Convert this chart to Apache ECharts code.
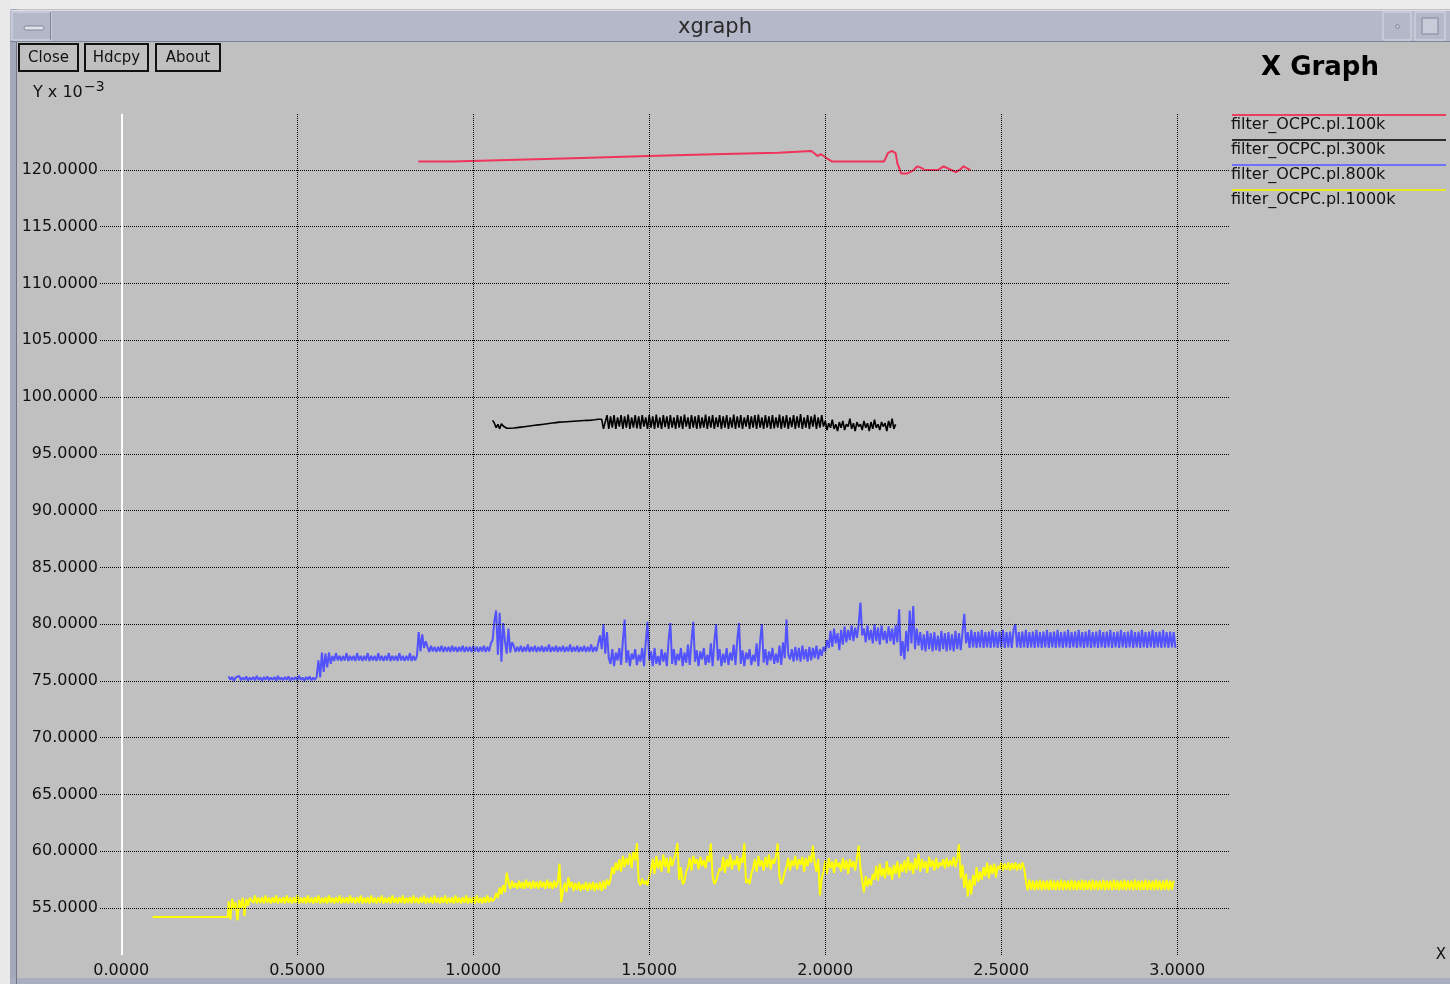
<!DOCTYPE html>
<html>
<head>
<meta charset="utf-8">
<script src="https://cdn.jsdelivr.net/npm/echarts@6/dist/echarts.min.js"></script>
<style>
html,body{margin:0;padding:0;background:#c0c0c0;}
#chart{width:1450px;height:984px;}
</style>
</head>
<body>
<div id="chart"></div>
<script>
// ---------------- data ----------------
const seriesNames = ['filter_OCPC.pl.100k', 'filter_OCPC.pl.300k', 'filter_OCPC.pl.800k', 'filter_OCPC.pl.1000k'];
const xTicks = [0, 0.5, 1.0, 1.5, 2.0, 2.5, 3.0];
const yTicks = [55, 60, 65, 70, 75, 80, 85, 90, 95, 100, 105, 110, 115, 120];
const sampleStep = 0.005;

const redPoints = [
  [0.844,120.74],[0.94,120.74],[0.94,120.9],[1.125,120.9],[1.125,121.06],[1.309,121.06],
  [1.309,121.23],[1.498,121.23],[1.498,121.39],[1.682,121.39],[1.682,121.52],[1.867,121.52],
  [1.867,121.68],[1.96,121.68],[1.97,121.45],[1.978,121.23],[1.987,121.39],[1.996,121.23],
  [2.007,120.97],[2.02,120.74],[2.167,120.74],[2.178,121.48],[2.189,121.68],[2.2,121.48],
  [2.205,120.58],[2.216,119.68],[2.232,119.68],[2.249,119.94],[2.262,120.32],[2.273,120.19],
  [2.282,120.0],[2.32,120.0],[2.336,120.32],[2.347,120.16],[2.358,120.0],[2.371,119.81],
  [2.382,120.0],[2.393,120.32],[2.404,120.13],[2.412,120.0]
];

const blackStart = 1.055;
const blackValues = [
  97.95,97.7,97.3,97.6,97.2,97.65,97.45,97.55,97.25,97.25,
  97.25,97.25,97.27,97.29,97.31,97.33,97.35,97.37,97.39,97.41,97.43,97.45,
  97.47,97.49,97.51,97.53,97.55,97.57,97.59,97.61,97.63,
  97.65,97.67,97.69,97.71,97.73,97.75,97.77,97.79,
  97.8,97.81,97.82,97.83,97.84,97.85,97.86,97.87,97.88,97.89,
  97.9,97.91,97.92,97.93,97.94,97.95,97.96,97.97,
  97.98,98.0,98.02,98.04,98.04,98.04,
  97.2,97.3,98.4,97.2,98.3,97.3,98.4,97.2,98.2,97.4,
  98.4,97.2,98.3,97.3,98.45,97.2,98.2,97.3,98.4,97.25,
  98.3,97.2,98.4,97.4,98.2,97.2,98.4,97.3,98.3,97.2,
  98.45,97.3,98.2,97.2,98.4,97.35,98.3,97.2,98.4,97.3,
  98.2,97.2,98.4,97.3,98.3,97.2,98.45,97.4,98.2,97.2,
  98.4,97.3,98.3,97.2,98.4,97.25,98.2,97.3,98.45,97.2,
  98.3,97.3,98.4,97.2,98.2,97.35,98.4,97.2,98.3,97.3,
  98.4,97.2,98.2,97.3,98.45,97.2,98.3,97.3,98.4,97.2,
  98.2,97.4,98.4,97.2,98.3,97.3,98.4,97.2,98.45,97.3,
  98.2,97.2,98.4,97.3,98.3,97.2,98.4,97.25,98.2,97.3,
  98.45,97.2,98.3,97.3,98.4,97.2,98.2,97.35,98.4,97.2,
  98.3,97.3,98.5,97.2,98.2,97.3,98.4,97.2,98.3,97.4,
  98.45,97.2,98.2,97.3,98.4,
  97.4,97.9,97.1,97.7,97.3,98.0,97.2,97.6,97.0,97.8,
  97.3,97.9,97.1,97.6,97.4,98.1,97.2,97.7,97.0,97.8,
  97.4,97.6,97.1,97.9,97.3,97.7,97.0,97.8,97.2,98.0,
  97.3,97.6,97.1,97.8,97.4,97.7,97.0,97.9,97.3,98.1,
  97.2,97.6
];

const blueStart = 0.305;
const blueValues = [
  75.4,75.1,75.35,75.0,75.3,75.15,75.45,75.05,75.3,75.1,
  75.4,75.0,75.3,75.1,75.35,75.05,75.45,75.1,75.3,75.0,
  75.35,75.1,75.4,75.05,75.3,75.1,75.35,75.0,75.45,75.1,
  75.3,75.05,75.35,75.1,75.4,75.0,75.3,75.1,75.35,75.05,
  75.45,75.1,75.3,75.0,75.35,75.1,75.4,75.05,75.3,75.1,
  75.35,
  76.8,75.3,77.5,75.8,77.4,76.2,77.5,76.5,
  77.2,76.75,77.45,76.8,77.2,76.75,77.2,76.8,77.45,76.75,
  77.2,76.8,77.2,76.75,77.45,76.8,77.2,76.75,77.2,76.8,
  77.45,76.75,77.2,76.8,77.2,76.75,77.45,76.8,77.2,76.75,
  77.2,76.8,77.45,76.75,77.2,76.8,77.2,76.75,77.45,76.8,
  77.2,76.75,77.2,76.8,77.45,76.75,77.2,76.8,77.2,
  79.3,77.6,79.1,77.9,78.5,
  78.0,77.55,78.1,77.6,78.0,77.55,78.0,77.6,78.1,77.55,
  78.0,77.6,78.0,77.55,78.1,77.6,78.0,77.55,78.0,77.6,
  78.1,77.55,78.0,77.6,78.0,77.55,78.1,77.6,78.0,77.55,
  78.0,77.6,78.1,77.55,78.0,77.6,78.3,
  78.6,80.3,81.2,77.3,81.0,76.7,80.1,78.5,77.4,79.6,77.5,78.4,
  78.1,77.55,78.0,77.6,78.1,77.55,78.0,77.6,78.2,77.55,
  78.0,77.6,78.1,77.55,78.0,77.6,78.1,77.55,78.0,77.6,
  78.2,77.55,78.0,77.6,78.1,77.55,78.0,77.6,78.1,77.55,
  78.0,77.6,78.2,77.55,78.0,77.6,78.1,77.55,78.0,77.6,
  78.1,77.55,78.0,77.6,78.2,77.55,78.0,77.6,
  78.3,79.0,77.8,80.0,77.4,79.3,77.0,
  76.5,77.8,76.3,77.5,76.8,77.9,76.4,78.5,80.4,76.6,
  77.7,76.3,77.4,76.9,77.8,76.4,77.3,76.7,77.9,76.3,
  78.4,80.2,76.8,77.6,76.3,77.9,76.5,77.2,76.4,77.8,
  76.7,77.5,76.3,78.6,80.1,76.5,77.8,76.4,77.4,76.8,
  77.9,76.3,77.5,76.6,78.2,76.4,78.5,80.2,76.7,77.7,
  76.3,77.6,76.9,77.9,76.4,77.3,76.6,78.3,76.3,78.5,
  80.0,76.8,77.8,76.3,77.4,76.6,77.9,76.4,77.5,76.8,
  78.2,76.4,78.6,80.1,76.5,77.7,76.3,77.5,76.9,77.8,
  76.4,77.3,76.7,78.3,76.3,78.5,80.0,76.6,77.8,76.4,
  77.6,76.8,77.9,76.5,77.4,76.6,78.1,76.4,78.4,77.0,
  80.4,77.3,76.9,77.8,76.7,78.0,76.8,77.9,76.7,78.1,
  76.9,77.8,76.7,78.0,76.8,77.9,77.0,78.1,76.9,77.8,
  77.2,78.0,
  77.6,78.6,77.9,79.4,78.0,79.6,78.3,79.2,77.7,79.5,
  78.2,79.8,78.4,79.5,78.6,79.9,78.5,79.7,78.8,80.0,
  81.9,79.0,
  79.6,78.4,79.9,78.6,79.5,78.3,80.0,78.5,79.7,78.2,
  79.9,78.6,79.4,78.3,79.8,78.5,79.6,78.2,79.9,78.4,
  81.3,77.2,78.5,76.9,79.4,77.6,81.2,78.3,81.6,77.8,79.6,78.1,
  79.3,77.7,79.1,77.6,79.4,77.8,79.2,77.6,79.3,77.7,
  79.0,77.6,79.4,77.8,79.2,77.6,79.3,77.7,79.1,77.6,
  79.4,77.8,79.2,77.7,79.3,
  80.9,78.3,
  79.3,77.9,79.5,77.95,79.3,77.9,79.35,77.95,79.5,77.9,
  79.3,77.95,79.35,77.9,79.5,77.95,79.3,77.9,79.35,77.95,
  79.5,77.9,79.3,77.95,79.35,77.9,79.5,80.0,77.95,79.3,
  77.9,79.35,77.95,79.5,77.9,79.3,77.95,79.35,77.9,79.5,
  77.95,79.3,77.9,79.35,77.95,79.5,77.9,79.3,77.95,79.35,
  77.9,79.5,77.95,79.3,77.9,79.35,77.95,79.5,77.9,79.3,
  77.95,79.35,77.9,79.5,77.95,79.3,77.9,79.35,77.95,79.5,
  77.9,79.3,77.95,79.35,77.9,79.5,77.95,79.3,77.9,79.35,
  77.95,79.5,77.9,79.3,77.95,79.35,77.9,79.5,77.95,79.3,
  77.9,79.35,77.95,79.5,77.9,79.3,77.95,79.35,77.9,79.5,
  77.95,79.3,77.9,79.35,77.95,79.5,77.9,79.3,77.95,79.35,
  77.9,79.5,77.95,79.3,77.9,79.35,77.95,79.3,77.9
];

const yellowHead = [[0.089, 54.2], [0.303, 54.2]];
const yellowStart = 0.305;
const yellowValues = [
  55.6,54.0,55.8,54.9,55.5,53.9,55.7,55.0,55.9,54.3,55.8,55.2,55.9,
  55.9,55.45,56.1,55.4,55.9,55.45,55.95,55.4,56.1,55.45,
  55.9,55.4,55.95,55.45,56.1,55.4,55.9,55.45,55.95,55.4,
  56.1,55.45,55.9,55.4,55.95,55.45,56.1,55.4,55.9,55.45,
  55.95,55.4,56.1,55.45,55.9,55.4,55.95,55.45,56.1,55.4,
  55.9,55.45,55.95,55.4,56.1,55.45,55.9,55.4,55.95,55.45,
  56.1,55.4,55.9,55.45,55.95,55.4,56.1,55.45,55.9,55.4,
  55.95,55.45,56.1,55.4,55.9,55.45,55.95,55.4,56.1,55.45,
  55.9,55.4,55.95,55.45,56.1,55.4,55.9,55.45,55.95,55.4,
  56.1,55.45,55.9,55.4,55.95,55.45,56.1,55.4,55.9,55.45,
  55.95,55.4,56.1,55.45,55.9,55.4,55.95,55.45,56.1,55.4,
  55.9,55.45,55.95,55.4,56.1,55.45,55.9,55.4,55.95,55.45,
  56.1,55.4,55.9,55.45,55.95,55.4,56.1,55.45,55.9,55.4,
  55.95,55.45,56.1,55.4,55.9,55.45,55.95,55.4,56.1,55.45,
  55.9,55.4,55.95,55.45,56.1,55.5,55.9,55.6,
  55.8,56.3,55.9,56.8,56.2,57.0,56.4,58.1,
  57.3,56.7,57.4,56.8,57.2,56.7,57.4,56.75,57.3,56.7,
  57.5,56.8,57.3,56.7,57.4,56.75,57.3,56.7,57.4,56.8,
  57.3,56.7,57.5,56.75,57.3,56.7,57.4,56.8,57.3,
  58.9,55.5,
  56.6,57.2,56.4,57.7,56.8,57.3,56.5,57.2,56.6,57.3,
  56.5,57.1,56.6,57.3,56.5,57.2,56.6,57.3,56.5,57.2,
  56.6,57.3,56.5,57.4,56.7,57.5,57.0,
  57.6,58.6,58.0,59.0,58.3,59.3,58.2,59.6,58.6,59.4,58.8,59.8,58.5,60.0,59.2,
  60.7,
  57.3,57.0,57.6,57.1,57.4,57.0,57.7,
  58.4,59.3,58.0,59.6,58.5,59.2,58.2,59.7,58.6,59.4,58.1,59.5,58.7,59.3,59.8,
  60.7,
  57.5,58.6,57.1,57.3,58.2,
  58.6,59.4,58.3,59.6,58.9,59.3,58.4,59.5,58.7,59.2,58.5,59.6,59.1,
  60.7,
  57.8,57.1,57.4,58.0,58.5,
  58.3,59.5,58.1,59.3,58.6,59.7,58.4,59.2,58.8,59.6,58.3,59.4,59.0,
  60.7,
  57.2,57.5,57.1,58.0,
  58.5,59.3,58.2,59.6,58.7,59.2,58.3,59.5,58.6,59.7,58.4,59.3,58.9,59.6,
  60.7,
  57.8,57.1,57.5,58.2,
  58.6,59.4,58.3,59.2,58.7,59.6,58.4,59.3,58.8,59.5,58.2,59.4,58.7,59.6,59.0,
  60.5,
  59.0,58.2,59.3,56.1,57.6,
  58.2,59.2,58.0,59.4,58.5,59.1,58.1,59.3,58.6,59.0,
  58.2,59.4,58.4,59.2,58.0,59.3,58.6,59.1,58.3,59.4,
  60.5,
  58.5,57.4,56.4,57.8,56.9,57.6,57.0,58.0,
  57.5,58.7,57.4,58.9,57.8,58.5,57.6,59.1,57.9,58.6,57.5,58.8,58.0,59.1,57.7,58.9,58.2,
  59.2,58.1,59.5,58.3,59.0,58.0,59.4,58.4,59.8,58.2,
  59.3,58.5,59.1,58.1,59.5,58.6,59.2,58.3,59.4,58.5,
  59.0,58.7,59.3,58.5,59.4,58.6,59.2,58.7,59.5,58.6,59.3,
  60.6,
  57.6,58.8,56.8,58.0,56.0,57.5,56.2,57.9,57.0,58.6,57.3,58.2,
  57.5,58.6,57.8,59.0,57.6,58.8,58.0,58.9,57.7,58.7,
  58.4,59.0,58.3,58.9,58.4,59.0,58.3,58.95,58.4,59.0,58.3,58.9,58.4,59.0,58.5,
  57.4,56.55,57.5,56.6,57.4,56.55,57.4,56.6,57.5,56.55,
  57.4,56.6,57.4,56.55,57.5,56.6,57.4,56.55,57.4,56.6,
  57.5,56.55,57.4,56.6,57.4,56.55,57.5,56.6,57.4,56.55,
  57.4,56.6,57.5,56.55,57.4,56.6,57.4,56.55,57.5,56.6,
  57.4,56.55,57.4,56.6,57.5,56.55,57.4,56.6,57.4,56.55,
  57.5,56.6,57.4,56.55,57.4,56.6,57.5,56.55,57.4,56.6,
  57.4,56.55,57.5,56.6,57.4,56.55,57.4,56.6,57.5,56.55,
  57.4,56.6,57.4,56.55,57.5,56.6,57.4,56.55,57.4,56.6,
  57.5,56.55,57.4,56.6,57.4
];

// ---------------- build ----------------
const seriesColors = ['#f0335a', '#000000', '#5252ff', '#ffff00'];
const legendColors = ['#e8405e', '#2a2a2a', '#7070ff', '#e8e820'];
const FONT = 'DejaVu Sans';

function sampled(start, values) {
  return values.map((v, i) => [Math.round((start + i * sampleStep) * 1000) / 1000, v]);
}

const redData = redPoints;
const blackData = sampled(blackStart, blackValues);
const blueData = sampled(blueStart, blueValues);
const yellowData = yellowHead.concat(sampled(yellowStart, yellowValues));

const dotted = { color: '#000', type: [1, 1], width: 1 };
const gridMarks = []
  .concat(xTicks.filter(v => v > 0).map(v => ({ xAxis: v, lineStyle: dotted })))
  .concat(yTicks.map(v => ({ yAxis: v, lineStyle: dotted })))
  .concat([{ xAxis: 0, lineStyle: { color: '#ffffff', type: 'solid', width: 2 } }]);

const chart = echarts.init(document.getElementById('chart'), null, { renderer: 'canvas' });

const legendGraphics = [];
seriesNames.forEach((name, i) => {
  const y = 115 + i * 25;
  legendGraphics.push({
    type: 'line', shape: { x1: 1232, y1: y, x2: 1446, y2: y },
    style: { stroke: legendColors[i], lineWidth: 2 }
  });
  legendGraphics.push({
    type: 'text', x: 1231, y: y + 10,
    style: { text: name, font: '16px "' + FONT + '"', fill: '#111', verticalAlign: 'middle' }
  });
});

function button(x, w, label) {
  return [
    { type: 'rect', shape: { x: x, y: 44, width: w, height: 27 }, style: { fill: 'none', stroke: '#111', lineWidth: 2 } },
    { type: 'text', x: x + w / 2, y: 58, style: { text: label, font: '15px "' + FONT + '"', fill: '#111', align: 'center', verticalAlign: 'middle' } }
  ];
}

const chrome = [
  { type: 'rect', shape: { x: 0, y: 0, width: 1450, height: 9 }, style: { fill: '#ececec' }, z: -10 },
  { type: 'rect', shape: { x: 0, y: 0, width: 10, height: 984 }, style: { fill: '#e9e9e9' }, z: -10 },
  { type: 'rect', shape: { x: 10, y: 9, width: 7, height: 975 }, style: { fill: '#a3a8bb' }, z: -9 },
  { type: 'line', shape: { x1: 16.5, y1: 42, x2: 16.5, y2: 984 }, style: { stroke: '#6f7487', lineWidth: 1 }, z: -8 },
  { type: 'rect', shape: { x: 10, y: 10, width: 1440, height: 32 }, style: { fill: '#b4b8c9' }, z: -9 },
  { type: 'line', shape: { x1: 10, y1: 10.5, x2: 1450, y2: 10.5 }, style: { stroke: '#dcdfe8', lineWidth: 1 }, z: -8 },
  { type: 'line', shape: { x1: 10, y1: 41.5, x2: 1450, y2: 41.5 }, style: { stroke: '#7d8295', lineWidth: 1 }, z: -8 },
  { type: 'rect', shape: { x: 12, y: 12, width: 39, height: 28 }, style: { fill: '#b4b8c9', stroke: '#d8dbe6', lineWidth: 1 }, z: -7 },
  { type: 'line', shape: { x1: 50.5, y1: 12, x2: 50.5, y2: 40 }, style: { stroke: '#80859a', lineWidth: 1 }, z: -7 },
  { type: 'rect', shape: { x: 24, y: 26, width: 20, height: 4, r: 2 }, style: { fill: '#e0e2ea', stroke: '#80859a', lineWidth: 1 }, z: -7 },
  { type: 'rect', shape: { x: 1383, y: 12, width: 28, height: 28 }, style: { fill: '#b4b8c9', stroke: '#d8dbe6', lineWidth: 1 }, z: -7 },
  { type: 'rect', shape: { x: 1396, y: 25, width: 3, height: 3 }, style: { fill: '#e8eaf0', stroke: '#80859a', lineWidth: 1 }, z: -7 },
  { type: 'rect', shape: { x: 1415, y: 12, width: 30, height: 28 }, style: { fill: '#b4b8c9', stroke: '#d8dbe6', lineWidth: 1 }, z: -7 },
  { type: 'rect', shape: { x: 1422, y: 18, width: 16, height: 16 }, style: { fill: '#c8cbd8', stroke: '#80859a', lineWidth: 1 }, z: -7 },
  { type: 'rect', shape: { x: 10, y: 978, width: 1440, height: 6 }, style: { fill: '#a9aebe' }, z: -9 },
  { type: 'text', x: 715, y: 28, style: { text: 'xgraph', font: '21px "' + FONT + '"', fill: '#2a2a2a', align: 'center', verticalAlign: 'middle' } },
  { type: 'text', x: 1320, y: 68, style: { text: 'X Graph', font: 'bold 26px "' + FONT + '"', fill: '#000', align: 'center', verticalAlign: 'middle' } },
  { type: 'text', x: 33, y: 93, style: { text: 'Y x 10', font: '16px "' + FONT + '"', fill: '#111', verticalAlign: 'middle' } },
  { type: 'text', x: 84, y: 87, style: { text: '\u22123', font: '14px "' + FONT + '"', fill: '#111', verticalAlign: 'middle' } },
  { type: 'text', x: 1441, y: 955, style: { text: 'X', font: '15px "' + FONT + '"', fill: '#111', align: 'center', verticalAlign: 'middle' } }
]
  .concat(button(19, 59, 'Close'))
  .concat(button(85, 63, 'Hdcpy'))
  .concat(button(156, 64, 'About'))
  .concat(legendGraphics);

const option = {
  backgroundColor: '#c0c0c0',
  animation: false,
  grid: { left: 100, right: 220, top: 114, bottom: 29, containLabel: false },
  xAxis: {
    type: 'value', min: -0.0605, max: 3.15,
    axisLine: { show: false }, axisTick: { show: false }, splitLine: { show: false },
    axisLabel: {
      customValues: xTicks, formatter: v => Number(v).toFixed(4),
      margin: 8, fontSize: 16, color: '#111', fontFamily: FONT
    }
  },
  yAxis: {
    type: 'value', min: 50.86, max: 124.93,
    axisLine: { show: false }, axisTick: { show: false }, splitLine: { show: false },
    axisLabel: {
      customValues: yTicks, formatter: v => Number(v).toFixed(4),
      margin: 2, fontSize: 16, color: '#111', fontFamily: FONT
    }
  },
  graphic: { elements: chrome },
  series: [
    {
      name: 'grid', type: 'line', data: [[-1, 0]], showSymbol: false, silent: true, z: 1,
      lineStyle: { width: 0 },
      markLine: { silent: true, symbol: ['none', 'none'], label: { show: false }, animation: false, data: gridMarks }
    },
    { name: seriesNames[0], type: 'line', data: redData, showSymbol: false, z: 3, lineStyle: { color: seriesColors[0], width: 2 }, itemStyle: { color: seriesColors[0] } },
    { name: seriesNames[1], type: 'line', data: blackData, showSymbol: false, z: 3, lineStyle: { color: seriesColors[1], width: 1.6 }, itemStyle: { color: seriesColors[1] } },
    { name: seriesNames[2], type: 'line', data: blueData, showSymbol: false, z: 3, lineStyle: { color: seriesColors[2], width: 2 }, itemStyle: { color: seriesColors[2] } },
    { name: seriesNames[3], type: 'line', data: yellowData, showSymbol: false, z: 3, lineStyle: { color: seriesColors[3], width: 2 }, itemStyle: { color: seriesColors[3] } }
  ]
};
chart.setOption(option);
</script>
</body>
</html>
